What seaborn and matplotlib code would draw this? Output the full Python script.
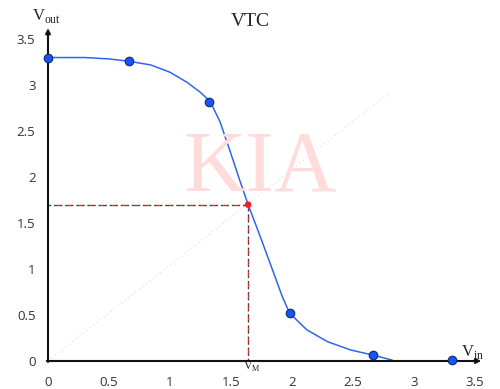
import matplotlib
matplotlib.use("Agg")
import matplotlib.pyplot as plt
import seaborn as sns
import pandas as pd

# ---- data ----
curve_vin = [0.0, 0.30, 0.50, 0.66, 0.84, 1.00, 1.14, 1.25, 1.33, 1.41, 1.49, 1.57, 1.64,
             1.74, 1.84, 1.92, 1.98, 2.12, 2.29, 2.48, 2.66, 2.82]
curve_vout = [3.30, 3.30, 3.285, 3.26, 3.22, 3.14, 3.03, 2.92, 2.82, 2.60, 2.29, 1.97, 1.70,
              1.35, 0.99, 0.70, 0.52, 0.34, 0.21, 0.12, 0.065, 0.01]
pts_vin = [0.0, 0.66, 1.32, 1.98, 2.66, 3.31]
pts_vout = [3.30, 3.26, 2.82, 0.52, 0.06, 0.01]
vm_x = 1.64
vm_y = 1.70
diag_x = [0.0, 2.80]
diag_y = [0.0, 2.92]
xticks = [0, 0.5, 1, 1.5, 2, 2.5, 3, 3.5]
yticks = [0, 0.5, 1, 1.5, 2, 2.5, 3, 3.5]
xtick_labels = ["0", "0.5", "1", "1.5", "2", "2.5", "3", "3.5"]
ytick_labels = ["0", "0.5", "1", "1.5", "2", "2.5", "3", "3.5"]

sns.set_style("white")
plt.rcParams["font.family"] = ["Open Sans", "DejaVu Sans"]

fig = plt.figure(figsize=(5.0, 3.89), dpi=100)
ax = fig.add_axes([0.096, 0.072, 0.864, 0.851])
ax.set_xlim(0, 3.54)
ax.set_ylim(0, 3.6)

# watermark
fig.text(0.52, 0.563, "KIA", color="#ffdcdc", fontsize=62, family="Liberation Serif",
         ha="center", va="center", zorder=0)

curve_df = pd.DataFrame({"vin": curve_vin, "vout": curve_vout})
pts_df = pd.DataFrame({"vin": pts_vin, "vout": pts_vout})

# faint diagonal
ax.plot(diag_x, diag_y, color="#dcdcdc", lw=0.8, ls=(0, (1, 3)), zorder=1)

# dashed VM guides
ax.plot([0, vm_x], [vm_y, vm_y], color="#5a3a3a", lw=1.0, ls=(0, (2, 2)), zorder=2)
ax.plot([0, vm_x], [vm_y, vm_y], color="#e02020", lw=1.0, ls=(2, (2, 6)), zorder=2)
ax.plot([vm_x, vm_x], [0, vm_y], color="#5a3a3a", lw=1.0, ls=(0, (2, 2)), zorder=2)
ax.plot([vm_x, vm_x], [0, vm_y], color="#e02020", lw=1.0, ls=(2, (2, 6)), zorder=2)

sns.lineplot(data=curve_df, x="vin", y="vout", ax=ax, color="#2f66f0", lw=1.1,
             sort=False, zorder=3)
sns.scatterplot(data=pts_df, x="vin", y="vout", ax=ax, color="#1a55f0", edgecolor="#0b2a80",
                linewidth=0.8, s=38, zorder=5, clip_on=False)
ax.scatter([vm_x], [vm_y], color="#ff1a1a", s=22, zorder=6, edgecolor="none")

# axes with arrows
for s in ax.spines.values():
    s.set_visible(False)
ax.annotate("", xy=(0, 3.62), xytext=(0, -0.01), xycoords="data",
            arrowprops=dict(arrowstyle="-|>", lw=1.5, color="#111111", mutation_scale=7,
                            shrinkA=0, shrinkB=0), annotation_clip=False)
ax.annotate("", xy=(3.55, 0), xytext=(-0.01, 0), xycoords="data",
            arrowprops=dict(arrowstyle="-|>", lw=1.5, color="#111111", mutation_scale=7,
                            shrinkA=0, shrinkB=0), annotation_clip=False)

ax.set_xticks(xticks)
ax.set_xticklabels(xtick_labels)
ax.set_yticks(yticks)
ax.set_yticklabels(ytick_labels)
ax.tick_params(axis="x", length=0, pad=11, labelsize=9.5, labelcolor="#333333")
ax.tick_params(axis="y", length=0, pad=9, labelsize=9.5, labelcolor="#333333")
ax.set_xlabel("")
ax.set_ylabel("")
ax.grid(False)

serif = "Liberation Serif"
fig.text(0.50, 1 - 22 / 389, "VTC", fontsize=14, family=serif, ha="center", va="center",
         color="#222222")
fig.text(32 / 500, 1 - 20 / 389, r"V$_{\mathregular{out}}$", fontsize=12, family=serif,
         ha="left", va="baseline", color="#222222")
fig.text(461 / 500, 1 - 356 / 389, r"V$_{\mathregular{in}}$", fontsize=12, family=serif,
         ha="left", va="baseline", color="#222222")
fig.text(243 / 500, 1 - 370 / 389, r"V$_{\mathregular{M}}$", fontsize=8.5, family=serif,
         ha="left", va="baseline", color="#222222")

fig.savefig("out.png", dpi=100, facecolor="white")
